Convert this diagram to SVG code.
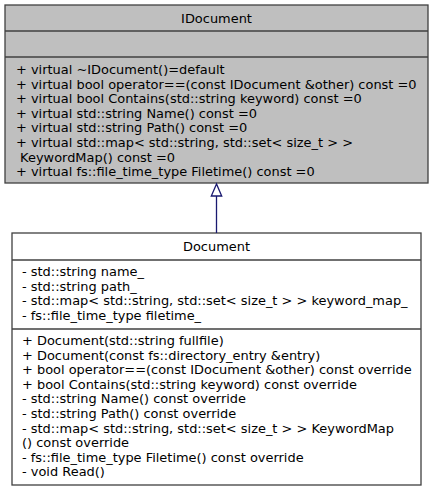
<svg xmlns="http://www.w3.org/2000/svg" width="433" height="492" viewBox="0 0 433 492">
<style>
  text { font-family: "DejaVu Sans", sans-serif; font-size: 12.95px; fill: #000; }
  .title { text-anchor: middle; }
  .box { stroke: #404040; stroke-width: 1.3; }
  .edge { stroke: #191970; stroke-width: 1.3; fill: none; }
</style>
<rect width="433" height="492" fill="#fff"/>

<g id="IDocument">
  <rect class="box" x="5" y="5" width="423" height="178" fill="#bfbfbf"/>
  <line class="box" x1="5" y1="31" x2="428" y2="31"/>
  <line class="box" x1="5" y1="57" x2="428" y2="57"/>
  <text class="title" x="216.5" y="23">IDocument</text>
  <text x="16" y="74">+ virtual ~IDocument()=default</text>
  <text x="16" y="88.6">+ virtual bool operator==(const IDocument &amp;other) const =0</text>
  <text x="16" y="103.2">+ virtual bool Contains(std::string keyword) const =0</text>
  <text x="16" y="117.8">+ virtual std::string Name() const =0</text>
  <text x="16" y="132.4">+ virtual std::string Path() const =0</text>
  <text x="16" y="147">+ virtual std::map&lt; std::string, std::set&lt; size_t &gt; &gt;</text>
  <text x="16" y="161.6" xml:space="preserve"> KeywordMap() const =0</text>
  <text x="16" y="176.2">+ virtual fs::file_time_type Filetime() const =0</text>
</g>

<g id="Document">
  <rect class="box" x="12" y="233" width="409" height="252" fill="#fff"/>
  <line class="box" x1="12" y1="260" x2="421" y2="260"/>
  <line class="box" x1="12" y1="329" x2="421" y2="329"/>
  <text class="title" x="216.5" y="251">Document</text>
  <text x="22" y="276">- std::string name_</text>
  <text x="22" y="290.6">- std::string path_</text>
  <text x="22" y="305.2">- std::map&lt; std::string, std::set&lt; size_t &gt; &gt; keyword_map_</text>
  <text x="22" y="319.8">- fs::file_time_type filetime_</text>
  <text x="22" y="345">+ Document(std::string fullfile)</text>
  <text x="22" y="359.6">+ Document(const fs::directory_entry &amp;entry)</text>
  <text x="22" y="374.2">+ bool operator==(const IDocument &amp;other) const override</text>
  <text x="22" y="388.8">+ bool Contains(std::string keyword) const override</text>
  <text x="22" y="403.4">- std::string Name() const override</text>
  <text x="22" y="418">- std::string Path() const override</text>
  <text x="22" y="432.6">- std::map&lt; std::string, std::set&lt; size_t &gt; &gt; KeywordMap</text>
  <text x="22" y="447.2">() const override</text>
  <text x="22" y="461.8">- fs::file_time_type Filetime() const override</text>
  <text x="22" y="476.4">- void Read()</text>
</g>

<g id="connectors">
  <path class="edge" d="M216.5,233 L216.5,196"/>
  <polygon class="edge" points="216.5,184 211.3,196 221.7,196" fill="#fff"/>
</g>
</svg>
